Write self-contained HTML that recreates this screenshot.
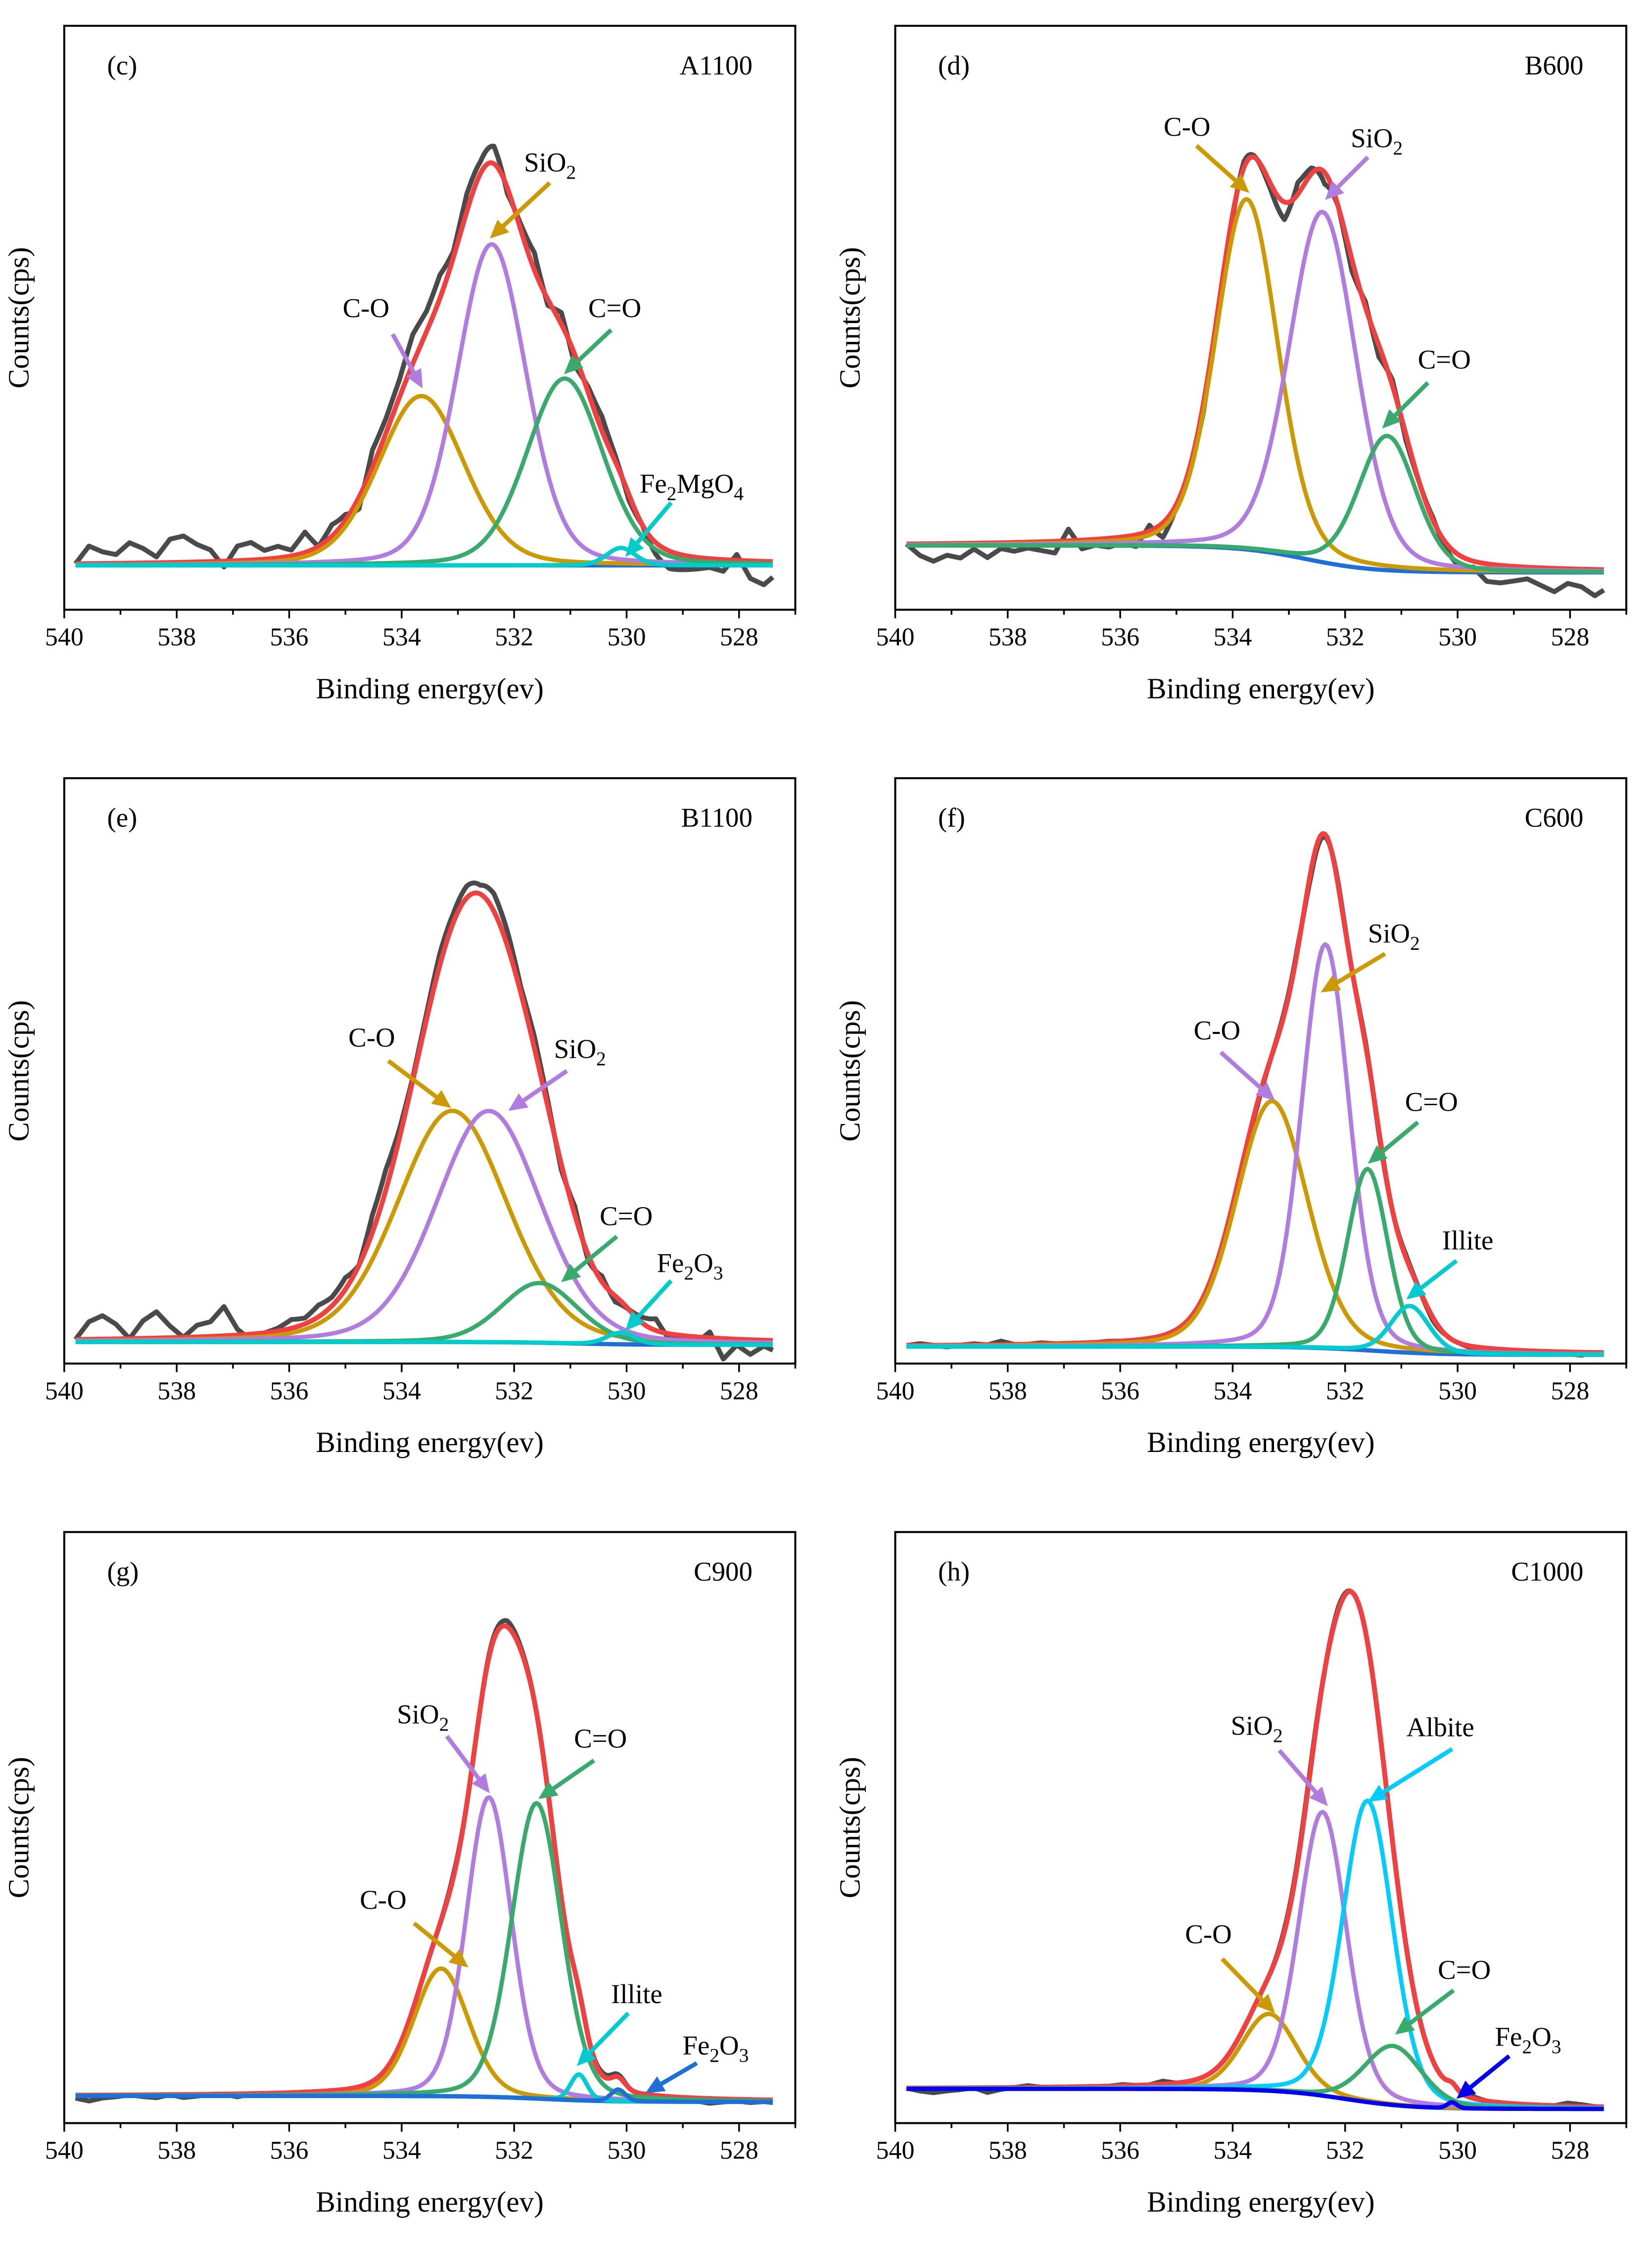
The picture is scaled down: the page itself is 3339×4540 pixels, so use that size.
<!DOCTYPE html>
<html><head><meta charset="utf-8">
<style>
html,body{margin:0;padding:0;background:#fff;}
svg{display:block;}
text{font-family:"Liberation Serif","DejaVu Serif",serif;fill:#000;}
</style></head>
<body>
<svg id="fig" xmlns="http://www.w3.org/2000/svg" width="3339" height="4540" viewBox="0 0 1157 1573"></svg>
<script>
// ---------- data (binding energy eV, intensity in arbitrary 0-100 units) ----------
const xTicks = [540, 538, 536, 534, 532, 530, 528];
const panelLetters = ["(c)", "(d)", "(e)", "(f)", "(g)", "(h)"];
const sampleNames = ["A1100", "B600", "B1100", "C600", "C900", "C1000"];

// panel c A1100
const cNames = ["C-O", "SiO2", "C=O", "Fe2MgO4"];
const cCenters = [533.65, 532.4, 531.1, 530.1];
const cHeights = [29, 55, 32, 3];
const cFwhm = [1.8, 1.45, 1.6, 0.6];
const cBase = [7.6, 7.6, 532.5];
const cEnvExtra = [532.4, 0, 1];
const cNoise = [0,3,2,1.5,3.5,2.5,1,4,4.5,3,2,-1,2.5,3,1.5,2,1,3.5,0,2,1,-2,3,2.5,3,5,3.5,4,1,3,2,3,-1,1,3,-1,2,-2,1,2.5,1,-1,0,-2,-3,-2.5,-2,-1.5,-2,1,-3,-4,-2];

// panel d B600
const dNames = ["C-O", "SiO2", "C=O"];
const dCenters = [533.75, 532.4, 531.25];
const dHeights = [60, 60, 23];
const dFwhm = [1.3, 1.4, 1.2];
const dBase = [11, 6.4, 532.7];
const dEnvExtra = [532.4, 0, 1];
const dNoise = [0,-2,-3,-2,-2.5,-1,-2.5,-1,-1.5,-1,-1.5,-2,2,-1.5,-1,-1.5,-1,-2,1,-2.5,-0.5,0,-1.5,0,-1,1,0,-1,-3,2,1,-2,0,-2,1,-2,1,-1,0,0.5,-1,-2,-1,-3,-3,-2.5,-2,-3,-4,-2.5,-3,-4.5,-3];

// panel e B1100
const eNames = ["C-O", "SiO2", "C=O", "Fe2O3"];
const eCenters = [533.1, 532.45, 531.55, 530.1];
const eHeights = [39.5, 39.5, 10.2, 2];
const eFwhm = [2.3, 2.2, 1.6, 0.6];
const eBase = [3.7, 3.2, 531];
const eEnvExtra = [532.4, 0, 1];
const eNoise = [0,3,4,2.5,0,3,4.5,2,0,2,2.5,5,1,-1,0,0.5,1.5,1,2,1.5,2,0,3,3.5,1.5,0.5,1,2,1.5,2,1.5,3,2.5,1,2,1,-1,1.5,-1,1,-1,0,1,2,-1,0,-1,1,-3.5,-1,-2.5,-1,-2];

// panel f C600
const fNames = ["C-O", "SiO2", "C=O", "Illite"];
const fCenters = [533.3, 532.35, 531.6, 530.85];
const fHeights = [42, 69, 31, 8];
const fFwhm = [1.5, 1.0, 0.85, 0.8];
const fBase = [2.9, 1.5, 531.5];
const fEnvExtra = [532.4, 0, 1];
const fNoise = [0,0.3,0,-0.3,0,0.2,0,0.6,0,0,0.2,0,0,0,0,0.1,0,0,0,0,0,0,0,0,0,0,-0.5,0,0.5,0.5,-1,-0.5,0.5,0,0.5,-0.5,0,0.5,0,-0.5,0,0,-0.3,-0.5,0,-0.3,0,-0.5,0,-0.3,-0.5,0,0];

// panel g C900
const gNames = ["C-O", "SiO2", "C=O", "Illite", "Fe2O3"];
const gCenters = [533.3, 532.45, 531.6, 530.85, 530.15];
const gHeights = [21.6, 50.7, 50, 4.4, 2];
const gFwhm = [1.15, 0.95, 1.05, 0.35, 0.3];
const gBase = [4.6, 3.6, 531.5];
const gEnvExtra = [532.05, 17, 0.85];
const gNoise = [-0.5,-1,-0.5,-0.3,0,-0.3,-0.5,0,-0.5,-0.3,0,0,-0.5,0,0,-0.3,0,0,0,0,0,0,0,0,0,0,0,0,0.5,0,0,0.5,1,0.5,0,0,0,0,0,0.5,0.5,0,0,0,-0.3,-0.5,-0.5,-0.8,-0.5,-0.3,-0.5,-0.3,-0.5];

// panel h C1000
const hNames = ["C-O", "SiO2", "Albite", "C=O", "Fe2O3"];
const hCenters = [533.35, 532.4, 531.6, 531.15, 530.1];
const hHeights = [13, 48, 51, 10, 1];
const hFwhm = [1.15, 1.0, 1.05, 1.2, 0.2];
const hBase = [5.8, 2.4, 532];
const hEnvExtra = [531.95, 18, 0.8];
const hNoise = [0,-0.5,-0.8,-0.5,-0.3,0,-0.8,-0.3,0,0.3,0,0,0,0,0,0,0.2,0,0,0.5,0,0,0,0,0,0,0,0,0.5,0.5,0.5,0,0.5,0,0,0,0,0,0,0,0,0,0.3,0,0,0,0,0,0,0.5,0.3,0,0];

// ---------- layout ----------
const NS = "http://www.w3.org/2000/svg";
const svg = document.getElementById("fig");
function el(tag, attrs, parent){const e=document.createElementNS(NS,tag);for(const k in attrs)e.setAttribute(k,attrs[k]);(parent||svg).appendChild(e);return e;}

const frames = [
  {l:45,r:557,t:18,b:427},{l:627,r:1139,t:18,b:427},
  {l:45,r:557,t:545,b:955},{l:627,r:1139,t:545,b:955},
  {l:45,r:557,t:1073,b:1487},{l:627,r:1139,t:1073,b:1487}
];
const panelData = [
  [cNames,cCenters,cHeights,cFwhm,cBase,cNoise,cEnvExtra],
  [dNames,dCenters,dHeights,dFwhm,dBase,dNoise,dEnvExtra],
  [eNames,eCenters,eHeights,eFwhm,eBase,eNoise,eEnvExtra],
  [fNames,fCenters,fHeights,fFwhm,fBase,fNoise,fEnvExtra],
  [gNames,gCenters,gHeights,gFwhm,gBase,gNoise,gEnvExtra],
  [hNames,hCenters,hHeights,hFwhm,hBase,hNoise,hEnvExtra]
];
const compColor = {"C-O":"#cc9900","SiO2":"#b07ce0","C=O":"#38ab6c","Fe2MgO4":"#00cccc","Illite":"#00ccd0","Albite":"#00ccff","Fe2O3":"#00cccc"};
const fe2o3Color = ["#00cccc","#00cccc","#00cccc","#00cccc","#1f6fd8","#0000ee"];
const baseColor = "#1f6fd8";

const annots = [
  [["SiO2",367,120,385,128,343,167,"C-O"],["C-O",240,222,275,234,296,272,"SiO2"],["C=O",412,222,428,231,395,262,"C=O"],["Fe2MgO4",448,345,470,352,438,390,"Fe2MgO4"]],
  [["C-O",815,95,838,102,875,135,"C-O"],["SiO2",946,103,958,110,928,140,"SiO2"],["C=O",993,258,1000,268,968,300,"C=O"]],
  [["C-O",244,733,272,743,316,776,"C-O"],["SiO2",388,741,397,750,356,778,"SiO2"],["C=O",420,858,432,866,393,898,"C=O"],["Fe2O3",460,891,470,897,438,932,"Fe2O3"]],
  [["C-O",836,728,855,737,893,771,"SiO2"],["SiO2",958,660,970,668,925,695,"C-O"],["C=O",984,778,993,786,958,815,"C=O"],["Illite",1010,875,1020,883,985,910,"Illite"]],
  [["SiO2",278,1207,313,1216,343,1256,"SiO2"],["C-O",252,1337,290,1347,328,1378,"C-O"],["C=O",402,1224,416,1233,377,1260,"C=O"],["Illite",428,1403,440,1410,404,1447,"Illite"],["Fe2O3",478,1439,488,1445,452,1466,"Fe2O3"]],
  [["SiO2",862,1215,896,1226,930,1265,"SiO2"],["Albite",985,1216,1017,1225,958,1262,"Albite"],["C-O",830,1361,856,1372,893,1410,"C-O"],["C=O",1007,1386,1018,1394,977,1425,"C=O"],["Fe2O3",1047,1433,1057,1440,1020,1470,"Fe2O3"]]
];

function pv(x,c,h,f){const d=x-c;const g=Math.exp(-4*Math.LN2*d*d/(f*f));const l=1/(1+4*d*d/(f*f));return h*(0.8*g+0.2*l);}
function baseAt(b,x){return b[1]+(b[0]-b[1])/(1+Math.exp(-(x-b[2])/0.6));}

function labelText(parent,name,x,y,size){
  const t=el("text",{x:x,y:y,"font-size":size},parent);
  if(name==="C-O"||name==="C=O"||name==="Illite"||name==="Albite"){t.textContent=name;return t;}
  const parts=name.match(/[A-Za-z]+|\d+/g);
  parts.forEach(p=>{
    const s=el("tspan",{},t);
    if(/^\d+$/.test(p)){s.setAttribute("font-size",size*0.72);s.setAttribute("dy",5);}
    else if(s.previousSibling && /^\d+$/.test(s.previousSibling.textContent)){s.setAttribute("dy",-5);}
    s.textContent=p;
  });
  return t;
}

panelData.forEach((pd,pi)=>{
  const [names,centers,heights,fwhm,base,noise,extra]=pd;
  const F=frames[pi];
  const g=el("g",{});
  
  
  const xS=v=>F.l+(540-v)/13*(F.r-F.l);
  const yS=v=>F.b-v/100*(F.b-F.t);
  const clipId="clip"+pi;
  const cp=el("clipPath",{id:clipId},g);el("rect",{x:F.l,y:F.t,width:F.r-F.l,height:F.b-F.t},cp);
  const plot=el("g",{"clip-path":"url(#"+clipId+")"},g);
  const env=x=>{let s=pv(x,extra[0],extra[1],extra[2]);for(let i=0;i<centers.length;i++)s+=pv(x,centers[i],heights[i],fwhm[i]);return baseAt(base,x)+s;};
  const noiseAt=x=>{const t=(539.8-x)/0.24;const i=Math.max(0,Math.min(noise.length-2,Math.floor(t)));const f=Math.max(0,Math.min(1,t-i));return noise[i]*(1-f)+noise[i+1]*f;};
  const xs=[];for(let x=539.8;x>=527.4;x-=0.04)xs.push(x);
  let d="";
  xs.forEach((x,i)=>{d+=(i?"L":"M")+xS(x).toFixed(2)+","+yS(env(x)+noiseAt(x)).toFixed(2);});
  const raw=el("path",{d:d,fill:"none",stroke:"#4a4a4a","stroke-width":3.4,"stroke-linejoin":"round"},plot);
  
  
  const line=(fn,color,w,name)=>{let p="";xs.forEach((x,i)=>{p+=(i?"L":"M")+xS(x).toFixed(2)+","+yS(fn(x)).toFixed(2);});
    const e=el("path",{d:p,fill:"none",stroke:color,"stroke-width":w,"stroke-linejoin":"round"},plot);
    
    };
  line(env,"#f04040",3.4,"fit-envelope");
  line(x=>baseAt(base,x),baseColor,3,"background-baseline");
  for(let i=0;i<centers.length;i++){
    const col=names[i]==="Fe2O3"?fe2o3Color[pi]:compColor[names[i]];
    line(x=>baseAt(base,x)+pv(x,centers[i],heights[i],fwhm[i]),col,3,"peak-"+names[i].toLowerCase());
  }
  const fr=el("rect",{x:F.l,y:F.t,width:F.r-F.l,height:F.b-F.t,fill:"none",stroke:"#000","stroke-width":1.4},g);
  
  
  for(let v=540;v>=527;v--){const x=xS(v);const major=v%2===0;el("line",{x1:x,x2:x,y1:F.b,y2:F.b+(major?6:3.5),stroke:"#000","stroke-width":1.2},g);}
  xTicks.forEach(v=>{const t=el("text",{x:xS(v),y:F.b+25,"font-size":18,"text-anchor":"middle"},g);t.textContent=v;
    
    });
  const xl=el("text",{x:(F.l+F.r)/2,y:F.b+62,"font-size":20.5,"text-anchor":"middle"},g);xl.textContent="Binding energy(ev)";
  
  
  const yc=(F.t+F.b)/2;
  const yl=el("text",{x:F.l-25,y:yc,"font-size":20.5,"text-anchor":"middle",transform:"rotate(-90 "+(F.l-25)+" "+yc+")"},g);yl.textContent="Counts(cps)";
  
  
  const pl=el("text",{x:F.l+30,y:F.t+34,"font-size":19},g);pl.textContent=panelLetters[pi];
  
  
  const sn=el("text",{x:F.r-30,y:F.t+34,"font-size":19,"text-anchor":"end"},g);sn.textContent=sampleNames[pi];
  
  
  annots[pi].forEach(a=>{
    const [nm,tx,ty,x1,y1,x2,y2,ck]=a;
    const col=ck==="Fe2O3"?fe2o3Color[pi]:compColor[ck];
    const lt=labelText(g,nm,tx,ty,19);
    
    
    const ang=Math.atan2(y2-y1,x2-x1);const hl=13,hw=6;
    const bx=x2-hl*Math.cos(ang),by=y2-hl*Math.sin(ang);
    el("line",{x1:x1,y1:y1,x2:bx,y2:by,stroke:col,"stroke-width":3},g);
    const px=-Math.sin(ang)*hw,py=Math.cos(ang)*hw;
    const ar=el("polygon",{points:`${x2},${y2} ${bx+px},${by+py} ${bx-px},${by-py}`,fill:col},g);
    
    
  });
});
</script>
</body></html>
